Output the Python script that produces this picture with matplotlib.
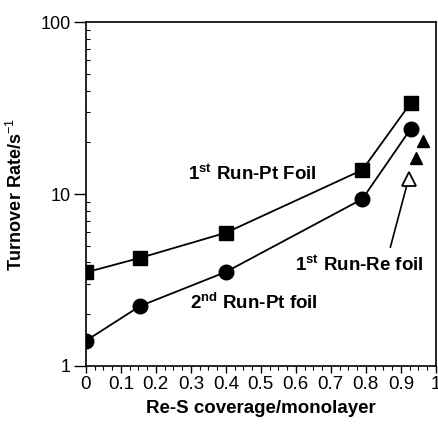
import matplotlib
matplotlib.use("Agg")
import matplotlib.pyplot as plt
from matplotlib.ticker import FixedLocator, NullFormatter, LogLocator

plt.rcParams['font.family'] = ['Liberation Sans', 'DejaVu Sans']
plt.rcParams['mathtext.fontset'] = 'custom'
plt.rcParams['mathtext.rm'] = 'Liberation Sans'
plt.rcParams['mathtext.bf'] = 'Liberation Sans:bold'

# Turnover rates vs Re-S coverage
pt_run1_x = [0.0, 0.155, 0.40, 0.79, 0.928]
pt_run1_y = [3.5, 4.25, 5.95, 13.8, 33.8]

pt_run2_x = [0.0, 0.155, 0.40, 0.79, 0.928]
pt_run2_y = [1.40, 2.23, 3.52, 9.35, 23.9]

re_run1_x = [0.943, 0.963]
re_run1_y = [16.2, 20.3]

re_open_x = [0.922]
re_open_y = [12.3]

x_ticks = [0, 0.1, 0.2, 0.3, 0.4, 0.5, 0.6, 0.7, 0.8, 0.9, 1]
x_tick_labels = ['0', '0.1', '0.2', '0.3', '0.4', '0.5', '0.6', '0.7', '0.8', '0.9', '1']
y_ticks = [1, 10, 100]
y_tick_labels = ['1', '10', '100']

fig = plt.figure(figsize=(4.38, 4.25), dpi=100)
ax = fig.add_axes([0.196, 0.139, 0.799, 0.809])

ax.plot(pt_run1_x, pt_run1_y, '-', color='black', lw=1.3,
        marker='s', ms=10, mfc='black', mec='black')
ax.plot(pt_run2_x, pt_run2_y, '-', color='black', lw=1.3,
        marker='o', ms=10.5, mfc='black', mec='black')
ax.plot(re_run1_x, re_run1_y, linestyle='none', marker='^', ms=9,
        mfc='black', mec='black')
ax.plot(re_open_x, re_open_y, linestyle='none', marker='^', ms=10,
        mfc='white', mec='black', mew=1.3)

ax.set_yscale('log')
ax.set_xlim(0, 1)
ax.set_ylim(1, 100)

ax.set_xticks(x_ticks)
ax.set_xticklabels(x_tick_labels)
ax.xaxis.set_minor_locator(FixedLocator([i / 40 for i in range(41)]))
ax.set_yticks(y_ticks)
ax.set_yticklabels(y_tick_labels)
ax.yaxis.set_minor_locator(LogLocator(base=10, subs=range(2, 10)))
ax.yaxis.set_minor_formatter(NullFormatter())

ax.tick_params(axis='x', which='major', direction='out', length=5, width=1,
               labelsize=13.5, pad=2)
ax.tick_params(axis='x', which='minor', direction='out', length=3, width=0.8)
ax.tick_params(axis='y', which='major', direction='out', length=9, width=1,
               labelsize=13, pad=2)
ax.tick_params(axis='y', which='minor', direction='in', length=3, width=0.8)

for s in ax.spines.values():
    s.set_linewidth(1.2)

ax.set_xlabel('Re-S coverage/monolayer', fontsize=13.5, fontweight='bold',
              labelpad=5)
ax.set_ylabel(r'Turnover Rate/s$^{-1}$', fontsize=13, fontweight='bold',
              labelpad=10)

ax.text(0.476, 10**((366 - 174) / 172), r'1$^{\mathbf{st}}$ Run-Pt Foil',
        fontsize=13.5, fontweight='bold', ha='center', va='center')
ax.text(0.48, 10**((366 - 303) / 172), r'2$^{\mathbf{nd}}$ Run-Pt foil',
        fontsize=13.5, fontweight='bold', ha='center', va='center')
ax.text(0.782, 10**((366 - 265) / 172), r'1$^{\mathbf{st}}$ Run-Re foil',
        fontsize=13.5, fontweight='bold', ha='center', va='center')

ax.annotate('', xy=(re_open_x[0] - 0.004, 11.4),
            xytext=(0.868, 10**((366 - 250) / 172)),
            arrowprops=dict(arrowstyle='-', color='black', lw=1.2))

fig.savefig('out.png', dpi=100)
